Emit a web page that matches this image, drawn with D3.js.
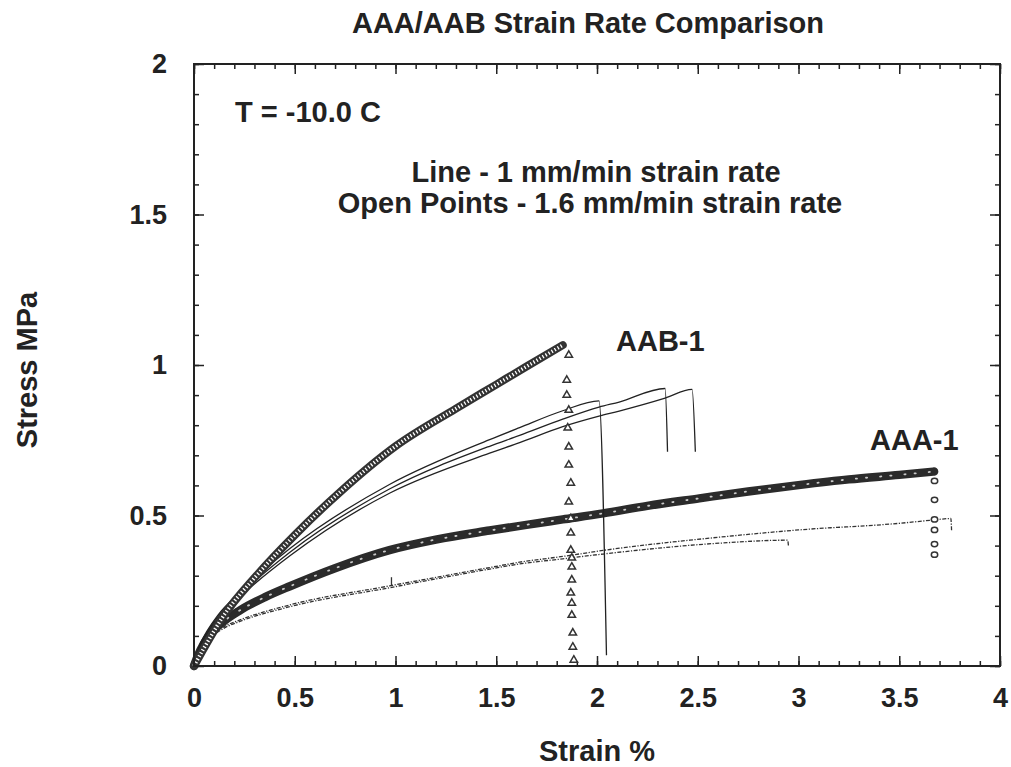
<!DOCTYPE html>
<html>
<head>
<meta charset="utf-8">
<script src="https://cdn.jsdelivr.net/npm/d3@7"></script>
<style>
  body { margin: 0; background: #fff; }
  text { font-family: "Liberation Sans", Arial, sans-serif; font-weight: bold; fill: #222; }
  .tick line { stroke: #222; stroke-width: 1.5; }
</style>
</head>
<body>
<div id="chart"></div>
<script>
// chart values: [strain %, stress MPa]
var aabPoints = [[0,0],[0.05,0.06],[0.145,0.165],[0.31,0.3],[0.5,0.435],[0.72,0.575],[1.0,0.73],[1.3,0.855],
  [1.5,0.935],[1.65,0.995],[1.83,1.066]];
var aabDrop = [[1.86,1.033],[1.85,0.95],[1.85,0.9],[1.86,0.85],[1.855,0.791],[1.86,0.728],[1.86,0.668],[1.87,0.608],
  [1.86,0.545],[1.87,0.49],[1.87,0.442],[1.87,0.385],[1.875,0.359],[1.875,0.329],[1.875,0.286],[1.87,0.243],
  [1.875,0.209],[1.875,0.169],[1.88,0.11],[1.88,0.063],[1.885,0.02]];
var aabLine1 = [[0,0],[0.03,0.072],[0.063,0.114],[0.12,0.17],[0.228,0.245],[0.476,0.39],[0.97,0.603],[1.467,0.752],
  [1.616,0.792],[1.83,0.848],[2.01,0.881],[2.047,0.036]];
var aabLine2 = [[0,0],[0.03,0.069],[0.063,0.11],[0.12,0.165],[0.228,0.237],[0.476,0.378],[0.97,0.588],[1.467,0.73],
  [1.616,0.766],[1.83,0.82],[2.01,0.86],[2.11,0.877],[2.338,0.922],[2.35,0.712]];
var aabLine3 = [[0,0],[0.03,0.066],[0.063,0.106],[0.12,0.16],[0.228,0.23],[0.476,0.366],[0.97,0.574],[1.467,0.707],
  [1.616,0.742],[1.83,0.795],[2.01,0.83],[2.11,0.847],[2.338,0.89],[2.472,0.919],[2.488,0.712]];

var aaaPoints = [[0,0],[0.02,0.035],[0.05,0.075],[0.1,0.12],[0.15,0.15],[0.228,0.185],[0.35,0.228],[0.476,0.265],
  [0.7,0.325],[0.97,0.385],[1.2,0.42],[1.467,0.45],[1.65,0.469],[1.83,0.487],[2.03,0.507],[2.25,0.532],[2.508,0.557],
  [2.75,0.58],[3.0,0.601],[3.25,0.62],[3.5,0.635],[3.673,0.646]];
var aaaDrop = [[3.675,0.615],[3.675,0.552],[3.675,0.487],[3.675,0.452],[3.675,0.405],[3.675,0.37]];
var aaaLine1 = [[0,0],[0.02,0.036],[0.05,0.072],[0.1,0.108],[0.15,0.131],[0.228,0.153],[0.476,0.203],[0.97,0.266],
  [1.467,0.327],[1.616,0.345],[1.83,0.364],[2.03,0.384],[2.607,0.428],[3.0,0.452],[3.5,0.474],[3.67,0.485],
  [3.756,0.49],[3.76,0.446]];
var aaaLine2 = [[0,0],[0.02,0.034],[0.05,0.068],[0.1,0.103],[0.15,0.126],[0.228,0.148],[0.476,0.197],[0.97,0.26],
  [1.467,0.322],[1.616,0.339],[1.83,0.356],[2.03,0.372],[2.607,0.408],[2.946,0.418],[2.95,0.4]];
var aaaLine3 = [[0.98,0.268],[0.98,0.295]];

var xTicks = [0, 0.5, 1, 1.5, 2, 2.5, 3, 3.5, 4];
var yTicks = [0, 0.5, 1, 1.5, 2];
var xMinor = d3.range(0, 4.001, 0.1);
var yMinor = d3.range(0, 2.001, 0.1);

// svg size and plot frame
var svgWidth = 1011;
var svgHeight = 767;
var margin = { top: 64, right: 11, bottom: 101, left: 194 };
var width = svgWidth - margin.left - margin.right;
var height = svgHeight - margin.top - margin.bottom;

var svg = d3.select("#chart").append("svg")
  .attr("width", svgWidth)
  .attr("height", svgHeight);

var chartGroup = svg.append("g")
  .attr("transform", `translate(${margin.left}, ${margin.top})`);

var x = d3.scaleLinear().domain([0, 4]).range([0, width]);
var y = d3.scaleLinear().domain([0, 2]).range([height, 0]);

// minor ticks, all four sides, pointing inward
chartGroup.append("g").attr("transform", `translate(0, ${height})`)
  .call(d3.axisBottom(x).tickValues(xMinor).tickSize(-5).tickFormat(""));
chartGroup.append("g")
  .call(d3.axisTop(x).tickValues(xMinor).tickSize(-5).tickFormat(""));
chartGroup.append("g")
  .call(d3.axisLeft(y).tickValues(yMinor).tickSize(-5).tickFormat(""));
chartGroup.append("g").attr("transform", `translate(${width}, 0)`)
  .call(d3.axisRight(y).tickValues(yMinor).tickSize(-5).tickFormat(""));

// major ticks
chartGroup.append("g").attr("transform", `translate(0, ${height})`)
  .call(d3.axisBottom(x).tickValues(xTicks).tickSize(-10).tickPadding(22).tickFormat(d3.format("")))
  .attr("font-size", 27);
chartGroup.append("g")
  .call(d3.axisTop(x).tickValues(xTicks).tickSize(-10).tickFormat(""));
chartGroup.append("g")
  .call(d3.axisLeft(y).tickValues(yTicks).tickSize(-10).tickPadding(27).tickFormat(d3.format("")))
  .attr("font-size", 27);
chartGroup.append("g").attr("transform", `translate(${width}, 0)`)
  .call(d3.axisRight(y).tickValues(yTicks).tickSize(-10).tickFormat(""));

chartGroup.selectAll(".domain").remove();
chartGroup.selectAll(".tick text").attr("fill", "#222").attr("font-family", null);

var line = d3.line()
  .x(function(d) { return x(d[0]); })
  .y(function(d) { return y(d[1]); })
  .curve(d3.curveMonotoneX);
var straight = d3.line()
  .x(function(d) { return x(d[0]); })
  .y(function(d) { return y(d[1]); });

// 1 mm/min lines, AAA
[aaaLine1, aaaLine2].forEach(function(s) {
  chartGroup.append("path").datum(s)
    .attr("d", line)
    .attr("fill", "none").attr("stroke", "#333").attr("stroke-width", 1.3)
    .attr("stroke-dasharray", "4,1.5,1.2,1.5");
});
chartGroup.append("path").datum(aaaLine3)
  .attr("d", straight)
  .attr("fill", "none").attr("stroke", "#333").attr("stroke-width", 1.3);

// AAA open circles, dense band
chartGroup.append("path").datum(aaaPoints)
  .attr("d", line)
  .attr("fill", "none").attr("stroke", "#2b2b2b").attr("stroke-width", 8.5).attr("stroke-linecap", "round");
chartGroup.append("path").datum(aaaPoints)
  .attr("d", line)
  .attr("fill", "none").attr("stroke", "#fff").attr("stroke-width", 1.8)
  .attr("stroke-dasharray", "1.2,9,1.2,13").attr("stroke-linecap", "round").attr("opacity", 0.75);

chartGroup.selectAll(".aaaDrop")
  .data(aaaDrop)
  .enter().append("ellipse")
    .attr("class", "aaaDrop")
    .attr("cx", function(d) { return x(d[0]); })
    .attr("cy", function(d) { return y(d[1]); })
    .attr("rx", 3.2).attr("ry", 2.6)
    .attr("fill", "#fff").attr("stroke", "#333").attr("stroke-width", 1.5);

// AAB lines
[aabLine1, aabLine2, aabLine3].forEach(function(s) {
  chartGroup.append("path").datum(s)
    .attr("d", line)
    .attr("fill", "none").attr("stroke", "#222").attr("stroke-width", 1.3);
});

// AAB open triangles, dense band
chartGroup.append("path").datum(aabPoints)
  .attr("d", line)
  .attr("fill", "none").attr("stroke", "#333").attr("stroke-width", 8).attr("stroke-linecap", "round");
chartGroup.append("path").datum(aabPoints)
  .attr("d", line)
  .attr("fill", "none").attr("stroke", "#fff").attr("stroke-width", 3.6)
  .attr("stroke-dasharray", "1.3,2.2");

chartGroup.selectAll(".aabDrop")
  .data(aabDrop)
  .enter().append("path")
    .attr("class", "aabDrop")
    .attr("d", d3.symbol(d3.symbolTriangle).size(24))
    .attr("transform", function(d) { return `translate(${x(d[0])}, ${y(d[1])})`; })
    .attr("fill", "#fff").attr("stroke", "#333").attr("stroke-width", 1.5);

// frame
chartGroup.append("rect")
  .attr("width", width).attr("height", height)
  .attr("fill", "none").attr("stroke", "#222").attr("stroke-width", 2);

// texts
svg.append("text").attr("x", 588).attr("y", 33).attr("text-anchor", "middle")
  .attr("font-size", 29).text("AAA/AAB Strain Rate Comparison");
svg.append("text").attr("x", 235).attr("y", 122).attr("font-size", 29).text("T = -10.0 C");
svg.append("text").attr("x", 596).attr("y", 182).attr("text-anchor", "middle")
  .attr("font-size", 29).text("Line - 1 mm/min strain rate");
svg.append("text").attr("x", 590).attr("y", 213).attr("text-anchor", "middle")
  .attr("font-size", 29).text("Open Points - 1.6 mm/min strain rate");
svg.append("text").attr("x", 616).attr("y", 351).attr("font-size", 29).text("AAB-1");
svg.append("text").attr("x", 870).attr("y", 450).attr("font-size", 29).text("AAA-1");

svg.append("text").attr("x", 597).attr("y", 761).attr("text-anchor", "middle")
  .attr("font-size", 29).text("Strain %");
svg.append("text")
  .attr("transform", "translate(37, 370) rotate(-90)")
  .attr("text-anchor", "middle")
  .attr("font-size", 29).text("Stress MPa");
</script>
</body>
</html>
